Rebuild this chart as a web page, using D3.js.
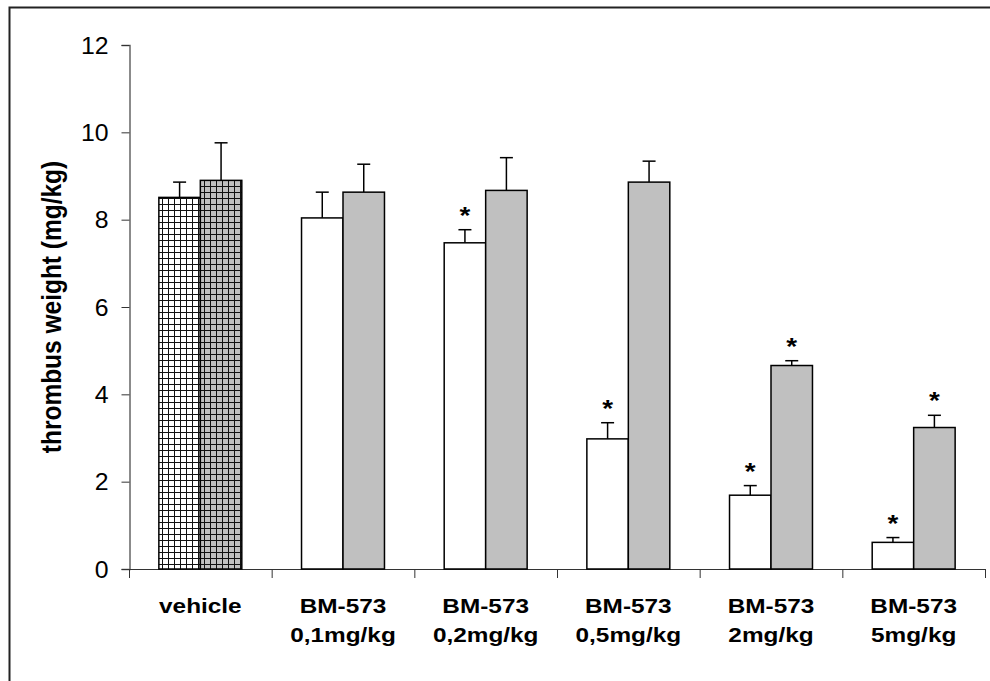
<!DOCTYPE html>
<html>
<head>
<meta charset="utf-8">
<script src="https://cdn.jsdelivr.net/npm/d3@7"></script>
<style>
  body { margin: 0; background: #fff; }
  text { font-family: Arial, "Liberation Sans", sans-serif; }
</style>
</head>
<body>
<div class="chart"></div>
<script>
// values
let categories = [["vehicle"], ["BM-573", "0,1mg/kg"], ["BM-573", "0,2mg/kg"],
  ["BM-573", "0,5mg/kg"], ["BM-573", "2mg/kg"], ["BM-573", "5mg/kg"]];
let seriesA = [8.51, 8.04, 7.47, 2.98, 1.69, 0.61];
let errA = [0.35, 0.59, 0.30, 0.37, 0.22, 0.11];
let starA = [false, false, true, true, true, true];
let seriesB = [8.90, 8.63, 8.67, 8.86, 4.66, 3.24];
let errB = [0.86, 0.64, 0.75, 0.48, 0.11, 0.28];
let starB = [false, false, false, false, true, true];
let yTicks = [0, 2, 4, 6, 8, 10, 12];

let svgWidth = 990;
let svgHeight = 681;
let stretch = 1.16; // the original picture is a bit wider than tall

let svg = d3.select(".chart")
  .append("svg")
  .attr("width", svgWidth)
  .attr("height", svgHeight);

// grid patterns for the vehicle bars
let defs = svg.append("defs");
function gridPattern(id, fill, size) {
  let p = defs.append("pattern")
    .attr("id", id)
    .attr("patternUnits", "userSpaceOnUse")
    .attr("width", size)
    .attr("height", size);
  p.append("rect").attr("width", size).attr("height", size).attr("fill", fill);
  p.append("path")
    .attr("d", `M0,0.5H${size}M0.5,0V${size}`)
    .attr("stroke", "#111")
    .attr("stroke-width", 1);
}
gridPattern("gridWhite", "#fff", 6);
gridPattern("gridGrey", "#c0c0c0", 6);

// outer frame
svg.append("rect")
  .attr("x", 9.5)
  .attr("y", 7.5)
  .attr("width", 1100)
  .attr("height", 800)
  .attr("fill", "none")
  .attr("stroke", "#222")
  .attr("stroke-width", 2);

let x0 = d3.scaleBand()
  .domain(d3.range(categories.length))
  .range([129, 985]);

let x1 = d3.scaleBand()
  .domain([0, 1])
  .range([0, x0.bandwidth()])
  .paddingOuter(0.72);

let y = d3.scaleLinear()
  .domain([0, 12])
  .range([569, 45]);

// y axis
let yAxis = svg.append("g")
  .attr("transform", "translate(129.5,0)")
  .call(d3.axisLeft(y).tickValues(yTicks).tickSize(8));
yAxis.select(".domain").attr("stroke", "#666").attr("stroke-width", 1.5);
yAxis.selectAll(".tick line").attr("stroke", "#333");
yAxis.selectAll(".tick text")
  .attr("x", null)
  .attr("transform", "translate(-21,0) scale(1.08,1)")
  .attr("dy", "0.36em")
  .attr("font-size", 23)
  .attr("font-family", "Arial, 'Liberation Sans', sans-serif")
  .attr("fill", "#000");

// x axis line and boundary ticks
let xAxis = svg.append("g");
xAxis.append("line")
  .attr("x1", 129).attr("x2", 985)
  .attr("y1", 569.5).attr("y2", 569.5)
  .attr("stroke", "#333")
  .attr("stroke-width", 1.2);
xAxis.selectAll(".xtick")
  .data(d3.range(categories.length + 1))
  .enter()
  .append("line")
  .attr("x1", i => (i < categories.length ? x0(i) : x0.range()[1]) + 0.5)
  .attr("x2", i => (i < categories.length ? x0(i) : x0.range()[1]) + 0.5)
  .attr("y1", 569)
  .attr("y2", 578)
  .attr("stroke", "#333");

// category labels
let labels = svg.append("g").selectAll("text")
  .data(categories)
  .enter()
  .append("text")
  .attr("transform", (d, i) => `translate(${x0(i) + x0.bandwidth() / 2},613) scale(${stretch},1)`)
  .attr("text-anchor", "middle")
  .attr("font-size", 21)
  .attr("font-weight", "bold");
labels.selectAll("tspan")
  .data(d => d)
  .enter()
  .append("tspan")
  .attr("x", 0)
  .attr("dy", (d, j) => j === 0 ? 0 : 29)
  .text(d => d);

// y axis title
svg.append("text")
  .attr("transform", `translate(61, ${(y(0) + y(12)) / 2}) scale(${stretch},1) rotate(-90)`)
  .attr("text-anchor", "middle")
  .attr("font-size", 24.5)
  .attr("font-weight", "bold")
  .text("thrombus weight (mg/kg)");

// bars
let rows = categories.map((c, i) => [
  { i: i, s: 0, v: seriesA[i], e: errA[i], star: starA[i] },
  { i: i, s: 1, v: seriesB[i], e: errB[i], star: starB[i] }
]).flat();

function barFill(d) {
  if (d.i === 0) return d.s === 0 ? "url(#gridWhite)" : "url(#gridGrey)";
  return d.s === 0 ? "#fff" : "#c0c0c0";
}

let g = svg.append("g");
let mid = d => x0(d.i) + x1(d.s) + x1.bandwidth() / 2;

// error bars
let err = g.selectAll(".err")
  .data(rows)
  .enter()
  .append("g")
  .attr("stroke", "#000")
  .attr("stroke-width", 1.5);
err.append("line")
  .attr("x1", mid)
  .attr("x2", mid)
  .attr("y1", d => y(d.v))
  .attr("y2", d => y(d.v + d.e));
err.append("line")
  .attr("x1", d => mid(d) - 6.5)
  .attr("x2", d => mid(d) + 6.5)
  .attr("y1", d => y(d.v + d.e))
  .attr("y2", d => y(d.v + d.e));

g.selectAll(".bar")
  .data(rows)
  .enter()
  .append("rect")
  .attr("x", d => x0(d.i) + x1(d.s))
  .attr("y", d => y(d.v))
  .attr("width", x1.bandwidth())
  .attr("height", d => y(0) - y(d.v))
  .attr("fill", barFill)
  .attr("stroke", "#000")
  .attr("stroke-width", 1.5);

// significance stars
g.selectAll(".star")
  .data(rows.filter(d => d.star))
  .enter()
  .append("text")
  .attr("transform", d => `translate(${mid(d)},${y(d.v + d.e) - 6}) scale(${stretch},1)`)
  .attr("text-anchor", "middle")
  .attr("font-size", 24)
  .attr("font-weight", "bold")
  .text("*");
</script>
</body>
</html>
